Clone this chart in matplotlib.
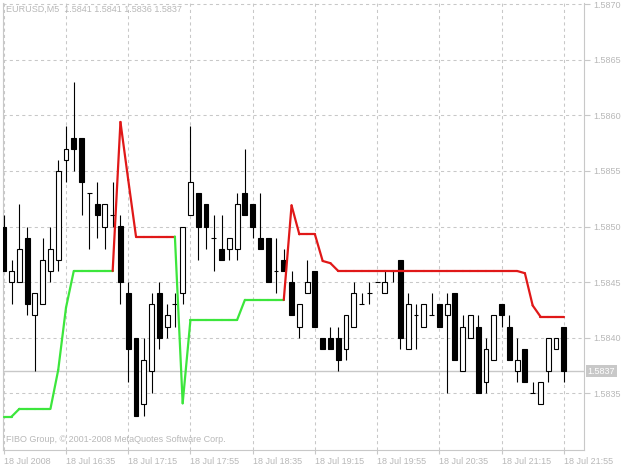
import numpy as np
from matplotlib import pyplot as plt
from matplotlib.collections import LineCollection

opens = [1.5850, 1.5845, 1.5845, 1.5849, 1.5842, 1.5843, 1.5846, 1.5847, 1.5856, 1.5858,
         1.5858, 1.5853, 1.5852, 1.5850, 1.5851, 1.5850, 1.5844, 1.5840, 1.5834, 1.5837,
         1.5844, 1.5841, 1.5843, 1.5844, 1.5851, 1.5853, 1.5852, 1.5849, 1.5848, 1.5848,
         1.5848, 1.5853, 1.5852, 1.5849, 1.5849, 1.5846, 1.5847, 1.5845, 1.5841, 1.5844,
         1.5846, 1.5840, 1.5840, 1.5840, 1.5839, 1.5841, 1.5843, 1.5844, 1.5845, 1.5844,
         1.5846, 1.5847, 1.5839, 1.5842, 1.5841, 1.5842, 1.5843, 1.5842, 1.5844, 1.5837,
         1.5840, 1.5841, 1.5836, 1.5838, 1.5843, 1.5841, 1.5837, 1.5839, 1.5835, 1.5834,
         1.5837, 1.5839, 1.5841]
highs = [1.5851, 1.5847, 1.5852, 1.5850, 1.5844, 1.5849, 1.5850, 1.5856, 1.5859, 1.5863,
         1.5858, 1.5853, 1.5854, 1.5852, 1.5854, 1.5851, 1.5845, 1.5840, 1.5840, 1.5844,
         1.5845, 1.5843, 1.5844, 1.5850, 1.5859, 1.5853, 1.5852, 1.5851, 1.5851, 1.5849,
         1.5853, 1.5857, 1.5852, 1.5853, 1.5849, 1.5849, 1.5848, 1.5846, 1.5843, 1.5847,
         1.5846, 1.5840, 1.5841, 1.5841, 1.5842, 1.5845, 1.5844, 1.5845, 1.5845, 1.5846,
         1.5846, 1.5847, 1.5844, 1.5843, 1.5843, 1.5844, 1.5843, 1.5844, 1.5844, 1.5842,
         1.5842, 1.5842, 1.5840, 1.5842, 1.5843, 1.5842, 1.5840, 1.5839, 1.5836, 1.5836,
         1.5840, 1.5840, 1.5841]
lows = [1.5846, 1.5843, 1.5845, 1.5842, 1.5837, 1.5843, 1.5845, 1.5846, 1.5854, 1.5855,
        1.5851, 1.5848, 1.5849, 1.5848, 1.5850, 1.5843, 1.5836, 1.5833, 1.5833, 1.5835,
        1.5839, 1.5840, 1.5841, 1.5843, 1.5851, 1.5847, 1.5848, 1.5846, 1.5847, 1.5847,
        1.5847, 1.5851, 1.5849, 1.5848, 1.5845, 1.5844, 1.5846, 1.5842, 1.5840, 1.5844,
        1.5841, 1.5839, 1.5839, 1.5837, 1.5838, 1.5841, 1.5843, 1.5843, 1.5845, 1.5844,
        1.5845, 1.5839, 1.5839, 1.5839, 1.5841, 1.5842, 1.5841, 1.5835, 1.5838, 1.5837,
        1.5840, 1.5835, 1.5835, 1.5838, 1.5841, 1.5838, 1.5836, 1.5836, 1.5835, 1.5834,
        1.5836, 1.5839, 1.5836]
closes = [1.5846, 1.5846, 1.5848, 1.5843, 1.5844, 1.5847, 1.5848, 1.5855, 1.5857, 1.5857,
          1.5854, 1.5853, 1.5851, 1.5852, 1.5851, 1.5845, 1.5839, 1.5833, 1.5838, 1.5843,
          1.5840, 1.5842, 1.5843, 1.5850, 1.5854, 1.5850, 1.5850, 1.5849, 1.5847, 1.5849,
          1.5852, 1.5851, 1.5850, 1.5848, 1.5845, 1.5846, 1.5846, 1.5842, 1.5843, 1.5845,
          1.5841, 1.5839, 1.5839, 1.5838, 1.5842, 1.5844, 1.5843, 1.5844, 1.5845, 1.5845,
          1.5846, 1.5840, 1.5843, 1.5842, 1.5843, 1.5842, 1.5841, 1.5843, 1.5838, 1.5841,
          1.5842, 1.5835, 1.5839, 1.5842, 1.5842, 1.5838, 1.5838, 1.5836, 1.5835, 1.5836,
          1.5840, 1.5840, 1.5837]

# trailing stop line and its direction (1 = up / green, -1 = down / red)
stop = [1.58329, 1.58329, 1.58336, 1.58336, 1.58336, 1.58336, 1.58336, 1.58371, 1.58427, 1.58460,
        1.58460, 1.58460, 1.58460, 1.58460, 1.58460, 1.58594, 1.58542, 1.58491, 1.58491, 1.58491,
        1.58491, 1.58491, 1.58491, 1.58341, 1.58416, 1.58416, 1.58416, 1.58416, 1.58416, 1.58416,
        1.58416, 1.58434, 1.58434, 1.58434, 1.58434, 1.58434, 1.58434, 1.58519, 1.58493, 1.58493,
        1.58493, 1.58469, 1.58467] + [1.58460] * 24 + [1.58458, 1.58429, 1.58419, 1.58419, 1.58419, 1.58419]
trend = [1] * 15 + [-1] * 8 + [1] * 14 + [-1] * 36

time_labels = ["18 Jul 2008", "18 Jul 16:35", "18 Jul 17:15", "18 Jul 17:55", "18 Jul 18:35",
               "18 Jul 19:15", "18 Jul 19:55", "18 Jul 20:35", "18 Jul 21:15", "18 Jul 21:55"]
price_ticks = [1.5835, 1.5840, 1.5845, 1.5850, 1.5855, 1.5860, 1.5865, 1.5870]
last_price = 1.5837

GRID = "#c8c8c8"
TXT = "#b8b8b8"
plt.rcParams["font.family"] = ["Liberation Sans", "DejaVu Sans"]

fig = plt.figure(figsize=(6.24, 4.70), dpi=100)
ax = fig.add_axes([3 / 624, 20 / 470, 581 / 624, 447 / 470])

o = np.array(opens)
h = np.array(highs)
l = np.array(lows)
c = np.array(closes)
x = np.arange(len(o))

ax.axhline(last_price, color=GRID, lw=1.0, zorder=1)

# wicks
ax.vlines(x, l, h, color="black", lw=0.8, zorder=3)
# bodies
w = 0.62
up = c > o
dn = c < o
eq = c == o
ax.bar(x[up], (c - o)[up], bottom=o[up], width=w, facecolor="white",
       edgecolor="black", lw=0.8, zorder=4)
ax.bar(x[dn], (o - c)[dn], bottom=c[dn], width=w, facecolor="black",
       edgecolor="black", lw=0.8, zorder=4)
ax.hlines(o[eq], x[eq] - w / 2, x[eq] + w / 2, color="black", lw=0.8, zorder=4)

# stop line, coloured by direction
s = np.array(stop)
segs = [[(x[i], s[i]), (x[i + 1], s[i + 1])] for i in range(len(s) - 1)]
cols = ["#3ce63c" if trend[i + 1] > 0 else "#e01818" for i in range(len(s) - 1)]
ax.add_collection(LineCollection(segs, colors=cols, linewidths=1.6, zorder=5,
                                 capstyle="round", joinstyle="round"))

ax.set_xlim(-0.1, 74.6)
ax.set_ylim(1.58299, 1.58701)

ax.set_xticks(np.arange(0, len(o), 8))
ax.set_xticklabels(time_labels, ha="left")
ax.set_yticks(price_ticks)
ax.set_yticklabels(["%.4f" % p for p in price_ticks])
ax.yaxis.tick_right()
ax.tick_params(axis="both", colors=GRID, labelcolor=TXT, labelsize=6.5, length=3, width=0.8)
ax.tick_params(axis="x", pad=2)
ax.tick_params(axis="y", pad=3, length=4)

ax.grid(True, color=GRID, linestyle=(0, (3, 3)), lw=0.75, zorder=0)
ax.set_axisbelow(True)
for name in ["left", "right", "bottom"]:
    ax.spines[name].set_color(GRID)
ax.spines["top"].set_visible(False)

# current price marker on the scale
ax.text(1.006, last_price, "%.4f" % last_price, transform=ax.get_yaxis_transform(),
        ha="left", va="center", fontsize=6.5, color="white",
        bbox=dict(boxstyle="square,pad=0.2", fc="#c8c8c8", ec="none"))

fig.text(6 / 624, 1 - 9 / 470, "EURUSD,M5  1.5841 1.5841 1.5836 1.5837",
         fontsize=6.5, color=TXT, va="center", ha="left")
fig.text(6 / 624, 1 - 440 / 470, "FIBO Group, \u00a9 2001-2008 MetaQuotes Software Corp.",
         fontsize=6.5, color=TXT, va="center", ha="left")

fig.savefig("out.png", dpi=100, facecolor="white")
